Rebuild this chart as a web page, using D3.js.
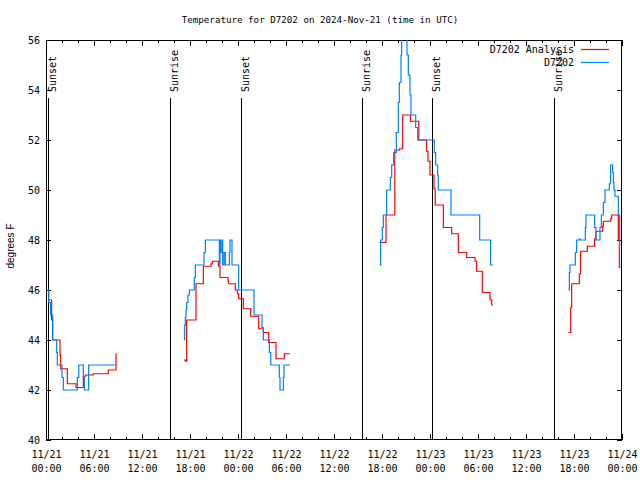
<!DOCTYPE html>
<html><head><meta charset="utf-8">
<script src="https://cdn.jsdelivr.net/npm/d3@7"></script>
<style>body{margin:0;background:#fff} svg{display:block}</style>
</head><body><svg id="c" width="640" height="480"></svg>
<script>
// ---- data ----
const titleText = "Temperature for D7202 on 2024-Nov-21 (time in UTC)";
const yLabelText = "degrees F";
const startUTC = Date.UTC(2024, 10, 21, 0, 0);
const endUTC = Date.UTC(2024, 10, 24, 0, 0);
const yDomain = [40, 56];
const yTicks = [40, 42, 44, 46, 48, 50, 52, 54, 56];
const sunEventHours = [0.25, 15.5, 24.375, 39.5, 48.25, 63.5];
const sunEventLabels = ["Sunset", "Sunrise", "Sunset", "Sunrise", "Sunset", "Sunrise"];
const seriesNames = ["D7202 Analysis", "D7202"];
const seriesColors = ["#ff0000", "#0080ff"];

// hours after 11/21 00:00 UTC; null separates segments
const analysisHours = [
  0.33,0.7,0.83,1.75,1.83,2.67,3.75,4.67,4.96,5.92,7.79,8.75,8.8, null,
  17.25,17.42,17.58,18.75,19.67,20.63,20.79,21.54,21.75,22.75,22.83,23.67,23.92,24.08,24.67,25.58,26.58,27.17,27.83,28.75,29.79,30.5, null,
  41.67,42.5,43.6,44.2,44.58,45.55,46.6,47.58,47.75,48.0,48.5,48.65,49.67,50.71,51.54,52.58,53.625,53.83,54.54,55.5,55.71,55.85, null,
  65.29,65.58,65.71,66.67,66.83,67.67,68.58,68.75,69.58,69.67,70.58,70.71,71.54,71.67,71.8
];
const analysisTemps = [
  45.6,44.8,44.0,43.4,42.85,42.25,42.1,42.55,42.6,42.65,42.8,43.45,43.45, null,
  43.2,43.15,44.8,46.25,46.95,47.05,47.15,46.95,46.5,46.35,46.25,46.0,45.85,45.65,45.25,44.95,44.45,44.3,43.9,43.25,43.45,43.45, null,
  47.9,49.0,51.6,51.65,53.0,52.75,52.0,51.55,51.15,50.6,50.05,49.4,48.5,48.25,47.5,47.3,47.15,46.75,45.9,45.6,45.4,45.4, null,
  44.3,45.3,46.25,46.65,47.55,47.75,48.05,48.35,48.55,48.75,48.85,49.0,48.0,46.9,46.9
];
const obsHours = [
  0.25,0.35,0.58,0.83,1.33,1.42,2.0,2.17,3.92,4.1,4.67,4.8,5.33,8.75, null,
  17.3,17.33,17.42,17.5,17.58,17.75,17.92,18.54,18.67,19.75,19.92,21.67,21.75,21.83,22.0,22.08,22.25,22.42,22.92,23.0,23.17,23.25,24.08,26.0,27.0,27.17,27.92,28.1,29.17,29.25,29.67,29.75,30.5, null,
  41.71,41.83,42.04,42.17,42.58,43.04,43.21,43.46,43.79,44.04,44.17,44.375,44.46,45.125,45.29,45.5,45.625,46.21,46.46,48.54,48.71,48.96,49.04,50.625,53.625,54.21,55.58,55.9, null,
  65.29,65.42,65.5,66.17,66.33,66.67,66.75,67.42,67.5,68.58,68.75,69.25,69.42,69.67,69.875,70.42,70.58,70.83,70.92,71.0,71.125,71.54,71.7,71.8
];
const obsTemps = [
  46.0,45.5,45.0,44.0,43.5,43.0,42.5,42.0,42.5,43.0,42.5,42.0,43.0,43.0, null,
  44.0,44.6,44.9,45.2,45.5,45.8,46.0,46.5,47.0,47.5,48.0,47.0,48.0,47.5,48.0,47.0,47.5,47.0,47.5,48.0,48.0,47.0,46.0,45.0,44.5,44.0,43.5,43.0,42.5,42.0,42.5,43.0,43.0, null,
  47.0,48.0,48.5,49.0,50.0,50.5,51.0,51.5,52.3,53.5,54.3,55.4,57.0,55.4,54.6,53.8,53.0,52.5,52.0,51.5,51.0,50.6,50.0,49.0,49.0,48.0,47.0,47.0, null,
  46.0,46.7,47.0,47.5,48.0,48.05,48.0,48.5,49.0,48.5,48.0,48.5,49.0,49.5,50.0,50.25,51.0,50.7,50.3,50.0,49.75,49.0,47.0,47.0
];

// ---- chart ----
const L = 46, R = 622, T = 40, B = 440;
const mono = "'DejaVu Sans Mono', 'Liberation Mono', monospace";
const svg = d3.select("#c");
svg.append("rect").attr("width", 640).attr("height", 480).attr("fill", "#fff");

const x = d3.scaleUtc().domain([new Date(startUTC), new Date(endUTC)]).range([L, R]);
const y = d3.scaleLinear().domain(yDomain).range([B, T]);
const hr = h => new Date(startUTC + h * 3600000);

svg.append("defs").append("clipPath").attr("id", "clip")
  .append("rect").attr("x", L).attr("y", T).attr("width", R - L).attr("height", B - T);

// sunrise / sunset markers
const sun = svg.append("g");
sunEventHours.forEach((h, i) => {
  const sx = Math.round(x(hr(h))) + 0.5;
  sun.append("line").attr("x1", sx).attr("x2", sx).attr("y1", 98).attr("y2", B)
    .attr("stroke", "#000").attr("stroke-width", 1).attr("shape-rendering", "crispEdges");
  sun.append("text").attr("transform", `translate(${sx + 7},92) rotate(-90)`)
    .attr("font-family", mono).attr("font-size", 10).attr("fill", "#000")
    .text(sunEventLabels[i]);
});

// axes
function styleAxis(g) {
  g.select(".domain").remove();
  g.selectAll("line").attr("stroke", "#000").attr("shape-rendering", "crispEdges");
  g.selectAll("text").attr("font-family", mono).attr("font-size", 10).attr("fill", "#000");
}
const major = d3.utcHour.every(6), minor = d3.utcHour.every(2);
svg.append("g").attr("transform", `translate(0,${B})`)
  .call(d3.axisBottom(x).ticks(minor).tickSize(-3).tickFormat("")).call(styleAxis);
svg.append("g").attr("transform", `translate(0,${T})`)
  .call(d3.axisTop(x).ticks(minor).tickSize(-3).tickFormat("")).call(styleAxis);
svg.append("g").attr("transform", `translate(0,${T})`)
  .call(d3.axisTop(x).ticks(major).tickSize(-6).tickFormat("")).call(styleAxis);
const xb = svg.append("g").attr("transform", `translate(0,${B})`)
  .call(d3.axisBottom(x).ticks(major).tickSize(-6).tickPadding(0).tickFormat(d3.utcFormat("%m/%d")))
  .call(styleAxis);
const fmtTime = d3.utcFormat("%H:%M");
xb.selectAll(".tick text").each(function(d) {
  const t = d3.select(this);
  const top = t.text();
  t.text(null).attr("dy", null).attr("y", 0);
  t.append("tspan").attr("x", 0).attr("y", 18).text(top);
  t.append("tspan").attr("x", 0).attr("y", 32).text(fmtTime(d));
});
svg.append("g").attr("transform", `translate(${L},0)`)
  .call(d3.axisLeft(y).tickValues(yTicks).tickSize(-5).tickPadding(6).tickFormat(d3.format("d")))
  .call(styleAxis);
svg.append("g").attr("transform", `translate(${R},0)`)
  .call(d3.axisRight(y).tickValues(yTicks).tickSize(-5).tickFormat(""))
  .call(styleAxis);

// frame
svg.append("rect").attr("x", L + 0.5).attr("y", T + 0.5).attr("width", R - L - 1).attr("height", B - T - 1)
  .attr("fill", "none").attr("stroke", "#000").attr("shape-rendering", "crispEdges");

// series
const line = d3.line()
  .defined(d => d[0] != null && d[1] != null)
  .x(d => x(hr(d[0]))).y(d => y(d[1]))
  .curve(d3.curveStepAfter);
const seriesData = [
  d3.zip(analysisHours, analysisTemps),
  d3.zip(obsHours, obsTemps)
];
const plot = svg.append("g").attr("clip-path", "url(#clip)");
seriesData.forEach((data, i) => {
  plot.append("path").datum(data).attr("d", line)
    .attr("fill", "none").attr("stroke", seriesColors[i]).attr("stroke-width", 1.2);
});

// legend
seriesNames.forEach((name, i) => {
  const ly = 49.5 + i * 13;
  svg.append("text").attr("x", 574).attr("y", ly).attr("dy", "0.35em")
    .attr("text-anchor", "end").attr("font-family", mono).attr("font-size", 10)
    .attr("fill", "#000").text(name);
  svg.append("line").attr("x1", 581).attr("x2", 609).attr("y1", ly).attr("y2", ly)
    .attr("stroke", seriesColors[i]).attr("stroke-width", 1.2);
});

// title and y label
svg.append("text").attr("x", 320).attr("y", 23).attr("text-anchor", "middle")
  .attr("font-family", mono).attr("font-size", 9.2).attr("fill", "#000").text(titleText);
svg.append("text").attr("transform", "translate(14,246) rotate(-90)").attr("text-anchor", "middle")
  .attr("font-family", "'Liberation Sans', Arial, sans-serif").attr("font-size", 10)
  .attr("fill", "#000").text(yLabelText);
</script></body></html>
